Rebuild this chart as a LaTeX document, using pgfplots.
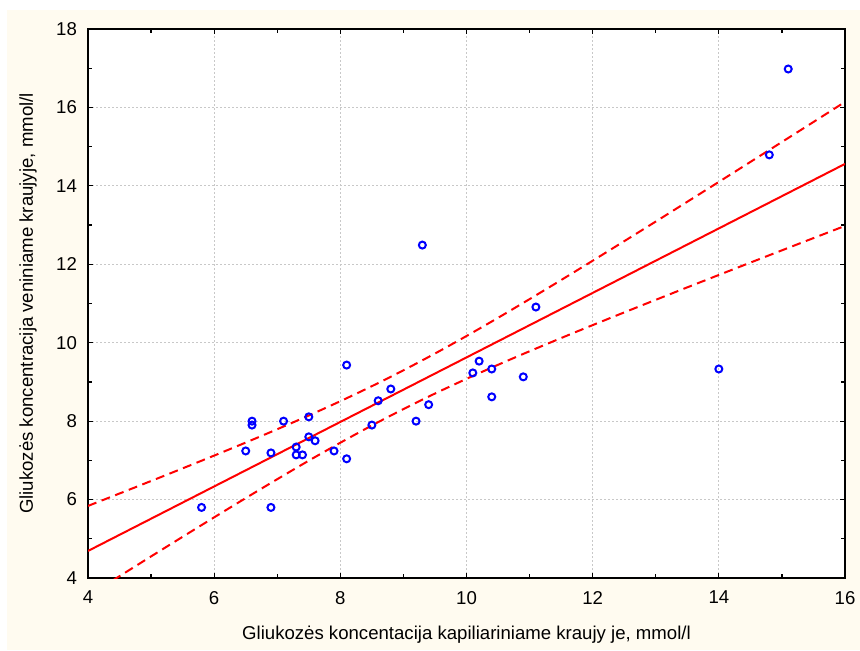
\documentclass[border=0pt]{standalone}
\usepackage{pgfplots}
\pgfplotsset{compat=1.18}
\usepackage{fontspec}
\setmainfont{Liberation Sans}
\definecolor{cream}{RGB}{255,251,240}
\definecolor{gridgray}{RGB}{200,200,200}
\definecolor{pblue}{RGB}{0,0,255}
\definecolor{pred}{RGB}{255,0,0}
\begin{document}
\begin{tikzpicture}
\useasboundingbox (0,0) rectangle (430pt,325pt);
\fill[white] (0,0) rectangle (430pt,325pt);
\fill[cream] (3.5pt,0) rectangle (430pt,320pt);
\begin{axis}[
  at={(44pt,36pt)}, anchor=south west,
  scale only axis, width=378.5pt, height=274.5pt,
  xmin=4, xmax=16, ymin=4, ymax=18,
  xtick={4,6,...,16}, ytick={4,6,...,18},
  minor tick num=1,
  tick pos=both, tick align=inside,
  major tick length=2.5pt, minor tick length=1.8pt,
  every tick/.style={black, line width=0.6pt},
  axis line style={line width=1pt},
  axis background/.style={fill=white},
  grid=major,
  major grid style={gridgray, line width=0.5pt, dash pattern=on 1pt off 1pt},
  font=\fontsize{9.3}{11}\selectfont,
  ticklabel style={font=\fontsize{9.3}{11}\selectfont},
  /pgf/number format/assume math mode=true,
  yticklabel style={xshift=-2pt},
  xticklabel style={yshift=-3pt},
  xlabel={Gliukozės koncentacija kapiliariniame kraujy je, mmol/l},
  ylabel={Gliukozės koncentracija veniniame kraujyje, mmol/l},
  every axis x label/.style={at={(axis description cs:0.5,-0.1038)}, anchor=center, font=\fontsize{9.3}{11}\selectfont},
  every axis y label/.style={at={(axis description cs:-0.0793,0.5)}, anchor=center, rotate=90, font=\fontsize{9.3}{11}\selectfont},
  clip=true,
]
% lower confidence band
\addplot[pred, line width=1pt, dash pattern=on 4.5pt off 2.8pt, smooth] coordinates {
(4,3.542)(4.5,4.047)(5,4.551)(5.5,5.051)(6,5.547)(6.5,6.038)(7,6.520)(7.5,6.993)
(8,7.450)(8.5,7.890)(9,8.308)(9.5,8.704)(10,9.079)(10.5,9.437)(11,9.783)(11.5,10.119)
(12,10.449)(12.5,10.773)(13,11.094)(13.5,11.412)(14,11.728)(14.5,12.043)(15,12.356)
(15.5,12.668)(16,12.979)};
% upper confidence band
\addplot[pred, line width=1pt, dash pattern=on 4.5pt off 2.8pt, smooth] coordinates {
(4,5.838)(4.5,6.155)(5,6.474)(5.5,6.796)(6,7.122)(6.5,7.454)(7,7.794)(7.5,8.144)
(8,8.509)(8.5,8.892)(9,9.297)(9.5,9.724)(10,10.171)(10.5,10.635)(11,11.112)(11.5,11.598)
(12,12.091)(12.5,12.589)(13,13.090)(13.5,13.595)(14,14.101)(14.5,14.610)(15,15.119)
(15.5,15.629)(16,16.141)};
% regression line
\addplot[pred, line width=1pt] coordinates {(4,4.690)(16,14.560)};
% data points
\addplot[only marks, mark=o, mark size=1.75pt, mark options={pblue, line width=1pt}] coordinates {
(5.8,5.8)(6.5,7.24)(6.6,8.0)(6.6,7.9)(6.9,7.19)(6.9,5.8)(7.1,8.0)(7.3,7.34)(7.3,7.14)
(7.4,7.14)(7.5,8.11)(7.5,7.6)(7.6,7.5)(7.9,7.24)(8.1,9.43)(8.1,7.04)(8.5,7.9)(8.6,8.52)
(8.8,8.82)(9.2,8.0)(9.3,12.49)(9.4,8.42)(10.1,9.23)(10.2,9.53)(10.4,9.33)(10.4,8.62)
(10.9,9.13)(11.1,10.91)(14.0,9.33)(14.8,14.79)(15.1,16.98)};
\end{axis}
\end{tikzpicture}
\end{document}
